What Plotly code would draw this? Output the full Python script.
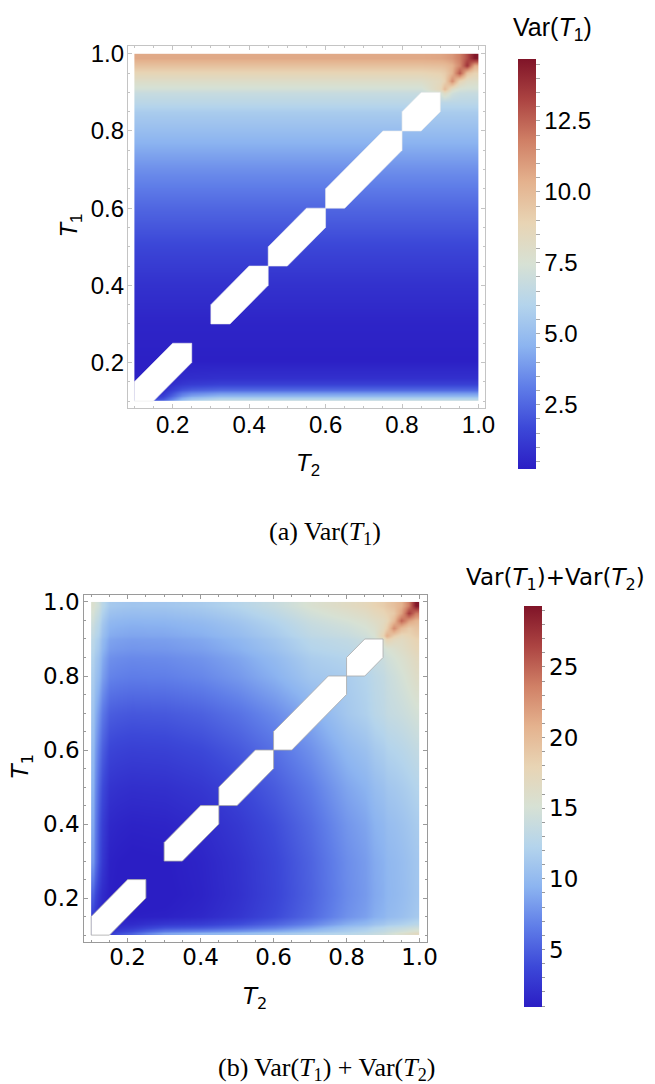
import plotly.graph_objects as go

# ---------------- data ----------------
# Chart (a): Var(T1) on a T2 (x) by T1 (y) grid; cell edges + cell values
a_x_edges = [0.1, 0.15, 0.2, 0.25, 0.4, 0.6, 0.8, 0.9, 0.92, 0.94, 0.96, 0.98, 1.0]
a_y_edges = [0.1, 0.105, 0.115, 0.13, 0.16, 0.25, 0.35, 0.45, 0.55, 0.65, 0.75, 0.85,
             0.9, 0.92, 0.94, 0.96, 0.98, 1.0]
a_values = [
    [1.5, 2.4, 5.0, 6.6, 6.6, 6.6, 6.6, 6.6, 6.6, 6.6, 6.6, 6.6],
    [1.0, 1.7, 4.2, 5.6, 5.6, 5.6, 5.6, 5.6, 5.6, 5.6, 5.6, 5.6],
    [0.6, 1.0, 2.9, 3.8, 3.8, 3.8, 3.8, 3.8, 3.8, 3.8, 3.8, 3.8],
    [0.35, 0.5, 1.1, 1.4, 1.4, 1.4, 1.4, 1.4, 1.4, 1.4, 1.4, 1.4],
    [0.3, 0.3, 0.3, 0.3, 0.3, 0.3, 0.3, 0.3, 0.3, 0.3, 0.3, 0.3],
    [0.45, 0.45, 0.45, 0.45, 0.45, 0.45, 0.45, 0.45, 0.45, 0.45, 0.45, 0.45],
    [0.9, 0.9, 0.9, 0.9, 0.9, 0.9, 0.9, 0.9, 0.9, 0.9, 0.9, 0.9],
    [1.6, 1.6, 1.6, 1.6, 1.6, 1.6, 1.6, 1.6, 1.6, 1.6, 1.6, 1.6],
    [2.5, 2.5, 2.5, 2.5, 2.5, 2.5, 2.5, 2.5, 2.5, 2.5, 2.5, 2.5],
    [3.6, 3.6, 3.6, 3.6, 3.6, 3.6, 3.6, 3.6, 3.6, 3.6, 3.6, 3.6],
    [5.0, 5.0, 5.0, 5.0, 5.0, 5.0, 5.0, 5.0, 5.0, 5.0, 5.0, 5.0],
    [6.3, 6.3, 6.3, 6.3, 6.3, 6.3, 6.3, 6.3, 6.3, 6.3, 6.3, 6.3],
    [7.3, 7.3, 7.3, 7.3, 7.3, 7.3, 7.3, 10.0, 8.0, 7.4, 7.3, 7.3],
    [8.0, 8.0, 8.0, 8.0, 8.0, 8.0, 8.0, 9.0, 11.5, 8.8, 8.1, 8.0],
    [8.8, 8.8, 8.8, 8.8, 8.8, 8.8, 8.8, 9.2, 10.3, 12.8, 9.6, 8.9],
    [9.7, 9.7, 9.7, 9.7, 9.7, 9.7, 9.7, 9.9, 10.3, 11.5, 13.8, 10.5],
    [10.6, 10.6, 10.6, 10.6, 10.6, 10.6, 10.6, 10.8, 11.1, 11.8, 13.0, 14.6],
]

# Chart (b): Var(T1)+Var(T2), same edges on both axes
b_edges = [0.1, 0.11, 0.13, 0.17, 0.25, 0.35, 0.45, 0.55, 0.65, 0.75, 0.85,
           0.9, 0.92, 0.94, 0.96, 0.98, 1.0]
b_values = [
    [2.4, 2.3, 2.6, 5.0, 8.5, 9.4, 10.1, 10.9, 11.8, 12.5, 13.6, 14.4, 15.0, 15.6, 16.2, 16.8],
    [2.3, 2.0, 1.7, 2.6, 4.2, 4.6, 5.5, 6.8, 8.5, 10.7, 12.2, 13.0, 13.2, 13.5, 13.9, 14.3],
    [2.6, 1.7, 1.1, 1.0, 1.15, 1.6, 2.5, 3.8, 5.5, 7.7, 9.2, 10.0, 10.2, 10.5, 10.9, 11.3],
    [5.0, 2.6, 1.0, 0.7, 0.8, 1.25, 2.15, 3.45, 5.15, 7.35, 8.85, 9.65, 9.85, 10.15, 10.55, 10.95],
    [8.0, 4.2, 1.15, 0.8, 0.9, 1.35, 2.25, 3.55, 5.25, 7.45, 8.95, 9.75, 9.95, 10.25, 10.65, 11.05],
    [8.8, 4.6, 1.6, 1.25, 1.35, 1.8, 2.7, 4.0, 5.7, 7.9, 9.4, 10.2, 10.4, 10.7, 11.1, 11.5],
    [9.4, 5.4, 2.4, 2.05, 2.15, 2.6, 3.5, 4.8, 6.5, 8.7, 10.2, 11.0, 11.2, 11.5, 11.9, 12.3],
    [10.0, 6.5, 3.5, 3.15, 3.25, 3.7, 4.6, 5.9, 7.6, 9.8, 11.3, 12.1, 12.3, 12.6, 13.0, 13.4],
    [10.8, 7.9, 4.9, 4.55, 4.65, 5.1, 6.0, 7.3, 9.0, 11.2, 12.7, 13.5, 13.7, 14.0, 14.4, 14.8],
    [11.6, 9.9, 6.9, 6.55, 6.65, 7.1, 8.0, 9.3, 11.0, 11.6, 13.0, 13.9, 14.35, 14.9, 15.55, 16.2],
    [12.6, 11.2, 8.2, 7.85, 7.95, 8.4, 9.3, 10.6, 12.3, 12.9, 14.3, 15.2, 15.65, 16.2, 16.85, 17.5],
    [13.3, 12.0, 9.0, 8.65, 8.75, 9.2, 10.1, 11.4, 13.1, 13.8, 15.2, 21.0, 18.5, 17.3, 17.85, 18.5],
    [13.8, 12.4, 9.4, 9.05, 9.15, 9.6, 10.5, 11.8, 13.5, 14.35, 15.75, 18.5, 23.0, 20.0, 18.6, 19.25],
    [14.4, 12.9, 9.9, 9.55, 9.65, 10.1, 11.0, 12.3, 14.0, 15.0, 16.4, 17.5, 20.0, 25.0, 21.8, 20.4],
    [15.0, 13.6, 10.6, 10.25, 10.35, 10.8, 11.7, 13.0, 14.7, 15.8, 17.2, 18.2, 18.85, 21.8, 27.0, 23.8],
    [15.6, 14.3, 11.3, 10.95, 11.05, 11.5, 12.4, 13.7, 15.4, 16.6, 18.0, 19.0, 19.65, 20.7, 23.8, 29.2],
]

# Regions along the diagonal where the quantity is undefined (same in both charts)
gap_x = [
    [0.1, 0.1, 0.2, 0.25, 0.25, 0.15, 0.1],
    [0.3, 0.35, 0.45, 0.45, 0.4, 0.3, 0.3],
    [0.45, 0.5, 0.6, 0.6, 0.55, 0.45, 0.45],
    [0.6, 0.65, 0.8, 0.8, 0.75, 0.6, 0.6],
    [0.8, 0.85, 0.9, 0.9, 0.85, 0.8, 0.8],
]
gap_y = [
    [0.1, 0.15, 0.25, 0.25, 0.2, 0.1, 0.1],
    [0.3, 0.3, 0.4, 0.45, 0.45, 0.35, 0.3],
    [0.45, 0.45, 0.55, 0.6, 0.6, 0.5, 0.45],
    [0.6, 0.6, 0.75, 0.8, 0.8, 0.65, 0.6],
    [0.8, 0.8, 0.85, 0.9, 0.9, 0.85, 0.8],
]

a_range = [0.23, 14.68]
b_range = [0.92, 29.3]
a_cb_ticks = [2.5, 5.0, 7.5, 10.0, 12.5]
b_cb_ticks = [5, 10, 15, 20, 25]
axis_ticks = [0.2, 0.4, 0.6, 0.8, 1.0]

# ---------------- style ----------------
thermo = [
    [0.0, 'rgb(43,30,196)'],
    [0.1, 'rgb(60,72,216)'],
    [0.2, 'rgb(95,125,232)'],
    [0.3, 'rgb(140,180,240)'],
    [0.4, 'rgb(180,212,236)'],
    [0.5, 'rgb(215,225,212)'],
    [0.6, 'rgb(232,212,180)'],
    [0.7, 'rgb(228,178,142)'],
    [0.8, 'rgb(208,128,102)'],
    [0.9, 'rgb(172,68,66)'],
    [1.0, 'rgb(128,20,40)'],
]
W, H = 655, 1084
FA = 'Liberation Sans, Arial, sans-serif'
FB = 'DejaVu Sans, sans-serif'
FS = 'Liberation Serif, Times New Roman, serif'


def px(x):
    return x / W


def py(y):
    return 1 - y / H


def cb_ticks(lo, hi, step, majors, fmt):
    vals, texts = [], []
    v = step
    while v < hi:
        vals.append(round(v, 3))
        texts.append(fmt.format(v) if any(abs(v - m) < 1e-9 for m in majors) else '')
        v += step
    return vals, texts


fig = go.Figure()

av, at = cb_ticks(*a_range, 0.5, a_cb_ticks, '{:.1f}')
fig.add_trace(go.Heatmap(
    x=a_x_edges, y=a_y_edges, z=a_values, zsmooth='best',
    colorscale=thermo, zmin=a_range[0], zmax=a_range[1],
    xaxis='x', yaxis='y', hoverinfo='skip',
    colorbar=dict(x=px(527.3), xanchor='left', xpad=0, y=py(259.5), yanchor='middle', ypad=0,
                  len=412.4 / H, lenmode='fraction', thickness=18, thicknessmode='pixels',
                  outlinewidth=0, tickmode='array', tickvals=av, ticktext=at,
                  ticks='outside', ticklen=4, tickcolor='#aaaaaa', tickwidth=1,
                  tickfont=dict(family=FA, size=24, color='black')),
))
bv, bt = cb_ticks(*b_range, 1.0, b_cb_ticks, '{:.0f}')
fig.add_trace(go.Heatmap(
    x=b_edges, y=b_edges, z=b_values, zsmooth='best',
    colorscale=thermo, zmin=b_range[0], zmax=b_range[1],
    xaxis='x2', yaxis='y2', hoverinfo='skip',
    colorbar=dict(x=px(532.7), xanchor='left', xpad=0, y=py(805.1), yanchor='middle', ypad=0,
                  len=403.6 / H, lenmode='fraction', thickness=18, thicknessmode='pixels',
                  outlinewidth=0, tickmode='array', tickvals=bv, ticktext=bt,
                  ticks='outside', ticklen=3, tickcolor='#999999', tickwidth=1,
                  tickfont=dict(family=FB, size=23, color='black')),
))

for gx, gy in zip(gap_x, gap_y):
    fig.add_trace(go.Scatter(x=gx, y=gy, mode='lines', fill='toself', fillcolor='white',
                             line=dict(color='rgba(235,235,235,1)', width=0.6),
                             xaxis='x', yaxis='y', hoverinfo='skip', showlegend=False))
    fig.add_trace(go.Scatter(x=gx, y=gy, mode='lines', fill='toself', fillcolor='white',
                             line=dict(color='rgba(170,170,170,1)', width=0.8),
                             xaxis='x2', yaxis='y2', hoverinfo='skip', showlegend=False))


def axis(domain, rng, anchor, color, font, size, standoff):
    return dict(domain=domain, range=rng, anchor=anchor, showgrid=False, zeroline=False,
                showline=True, mirror='allticks', linecolor=color, linewidth=1,
                tickmode='array', tickvals=axis_ticks, ticktext=['%.1f' % t for t in axis_ticks],
                ticks='inside', ticklen=4, tickcolor=color, tickwidth=1,
                ticklabelstandoff=standoff,
                tickfont=dict(family=font, size=size, color='black'),
                minor=dict(tickmode='linear', tick0=0.0, dtick=0.05, ticks='inside', ticklen=2,
                           tickcolor=color, showgrid=False),
                fixedrange=True)


fig.update_layout(
    width=W, height=H, margin=dict(l=0, r=0, t=0, b=0),
    paper_bgcolor='white', plot_bgcolor='white', showlegend=False,
    xaxis=axis([px(130), px(493.3)], [0.0828, 1.017], 'y', '#c4c4c4', FA, 24, -5),
    yaxis=axis([py(404.3), py(40.7)], [0.082, 1.019], 'x', '#c4c4c4', FA, 24, -2),
    xaxis2=axis([px(85.7), px(434)], [0.0811, 1.0197], 'y2', '#9a9a9a', FB, 23, -5),
    yaxis2=axis([py(941), py(592.7)], [0.082, 1.0177], 'x2', '#9a9a9a', FB, 23, -1),
)

T1 = '<i>T</i><sub>1</sub>'
T2 = '<i>T</i><sub>2</sub>'
ann = [
    dict(text='Var(' + T1 + ')', x=px(562), y=py(23), font=dict(family=FA, size=25, color='black')),
    dict(text='Var(' + T1 + ')+Var(' + T2 + ')', x=px(565), y=py(576), font=dict(family=FB, size=23, color='black')),
    dict(text=T2, x=px(313), y=py(461), font=dict(family=FA, size=24, color='black')),
    dict(text=T1, x=px(72), y=py(221), textangle=-90, font=dict(family=FA, size=24, color='black')),
    dict(text=T2, x=px(259.5), y=py(998), font=dict(family=FB, size=23, color='black')),
    dict(text=T1, x=px(22), y=py(765), textangle=-90, font=dict(family=FB, size=23, color='black')),
    dict(text='(a) Var(' + T1 + ')', x=px(331), y=py(530), font=dict(family=FS, size=26, color='black')),
    dict(text='(b) Var(' + T1 + ') + Var(' + T2 + ')', x=px(332.6), y=py(1069), font=dict(family=FS, size=26, color='black')),
]
for a in ann:
    a.update(xref='paper', yref='paper', showarrow=False, xanchor='center', yanchor='middle')
fig.update_layout(annotations=ann)

fig.write_html('out.html')
